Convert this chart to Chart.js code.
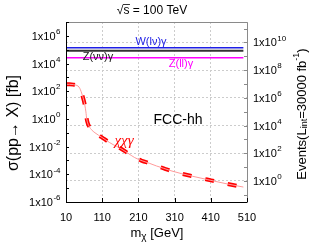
<!DOCTYPE html>
<html>
<head>
<meta charset="utf-8">
<script src="https://cdn.jsdelivr.net/npm/chart.js@4/dist/chart.umd.min.js"></script>
<style>
  html, body { margin: 0; padding: 0; background: #fff; }
</style>
</head>
<body>
<canvas id="xsChart" width="315" height="245"></canvas>
<script>
  // chi chi gamma cross section [fb] vs m_chi [GeV]
  const massPoints = [10, 20, 30, 40, 46, 50, 54, 58, 62, 65, 67, 70, 75, 80, 90, 100, 110, 120, 130, 140,
                      160, 180, 200, 220, 240, 260, 280, 300, 330, 360, 400, 430, 460, 500];
  const chiChiGamma = [316, 316, 300, 263, 200, 126, 63, 28, 10, 3.2, 1.1, 0.5, 0.26, 0.17, 0.1, 0.066, 0.045, 0.03, 0.02, 0.014,
                       0.0076, 0.0035, 0.0016, 0.00095, 0.00063, 0.0004, 0.00027, 0.00018, 0.00011, 0.000072, 0.000042, 0.000028, 0.000019, 0.000012];

  // backgrounds (flat)
  const bgMass = [10, 500];
  const wlnuGamma = [1.4e5, 1.4e5];
  const znunuGamma = [8.3e4, 8.3e4];
  const zllGamma = [2.6e4, 2.6e4];

  const xTicks = [10, 110, 210, 310, 410, 510];
  const sigmaExps = [-6, -4, -2, 0, 2, 4, 6];
  const eventExps = [0, 2, 4, 6, 8, 10];
  const lumi = 30000; // fb^-1
  const sigmaMin = 1e-6, sigmaMax = 1e7;

  const FONT = '"Liberation Sans", Arial, sans-serif';

  function pts(xs, ys) {
    return xs.map((x, i) => ({ x: x, y: ys[i] }));
  }

  // draws "1x10" with a raised exponent
  function drawPow(ctx, exp, x, y, align) {
    const base = '1x10';
    const sup = String(exp).replace('-', '-');
    ctx.font = '11px ' + FONT;
    const wb = ctx.measureText(base).width;
    ctx.font = '8px ' + FONT;
    const ws = ctx.measureText(sup).width;
    const start = align === 'right' ? x - wb - ws : x;
    ctx.textAlign = 'left';
    ctx.textBaseline = 'middle';
    ctx.font = '11px ' + FONT;
    ctx.fillText(base, start, y + 1);
    ctx.font = '8px ' + FONT;
    ctx.fillText(sup, start + wb + 0.5, y - 4);
  }

  const decor = {
    id: 'decor',
    afterDraw(chart) {
      const ctx = chart.ctx;
      const a = chart.chartArea;
      const xs = chart.scales.x, ys = chart.scales.y, y2 = chart.scales.y2;
      ctx.save();

      // frame
      ctx.lineWidth = 1;
      ctx.strokeStyle = '#8a8a8a';
      ctx.beginPath();
      ctx.moveTo(a.left, a.top + 0.5); ctx.lineTo(a.right + 0.5, a.top + 0.5);
      ctx.lineTo(a.right + 0.5, a.bottom);
      ctx.stroke();
      ctx.strokeStyle = '#000';
      ctx.beginPath();
      ctx.moveTo(a.left + 0.5, a.top); ctx.lineTo(a.left + 0.5, a.bottom + 0.5);
      ctx.lineTo(a.right + 0.5, a.bottom + 0.5);
      ctx.stroke();

      // tick marks
      ctx.beginPath();
      xTicks.forEach(v => {
        const px = Math.round(xs.getPixelForValue(v)) + 0.5;
        ctx.moveTo(px, a.bottom); ctx.lineTo(px, a.bottom - 4);
      });
      for (let e = -6; e <= 7; e++) {
        const py = Math.round(ys.getPixelForValue(Math.pow(10, e))) + 0.5;
        ctx.moveTo(a.left, py); ctx.lineTo(a.left + 3, py);
      }
      ctx.stroke();
      ctx.strokeStyle = '#8a8a8a';
      ctx.beginPath();
      for (let e = -1; e <= 11; e++) {
        const py = Math.round(y2.getPixelForValue(Math.pow(10, e))) + 0.5;
        ctx.moveTo(a.right, py); ctx.lineTo(a.right - 3, py);
      }
      ctx.stroke();

      // tick labels
      ctx.fillStyle = '#000';
      sigmaExps.forEach(e => drawPow(ctx, e, 60, ys.getPixelForValue(Math.pow(10, e)), 'right'));
      eventExps.forEach(e => drawPow(ctx, e, 253, y2.getPixelForValue(Math.pow(10, e)), 'left'));
      ctx.font = '11px ' + FONT;
      ctx.textAlign = 'center';
      ctx.textBaseline = 'middle';
      xTicks.forEach(v => ctx.fillText(String(v), xs.getPixelForValue(v), 218));

      // x title: m_chi [GeV]
      ctx.font = '13px ' + FONT;
      const mW = ctx.measureText('m').width;
      ctx.font = '10px ' + FONT;
      const chiW = ctx.measureText('χ').width;
      ctx.font = '13px ' + FONT;
      const restW = ctx.measureText(' [GeV]').width;
      let sx = 157 - (mW + chiW + restW) / 2;
      ctx.textAlign = 'left';
      ctx.fillText('m', sx, 233);
      ctx.font = '10px ' + FONT;
      ctx.fillText('χ', sx + mW, 237);
      ctx.font = '13px ' + FONT;
      ctx.fillText(' [GeV]', sx + mW + chiW, 233);

      // title
      ctx.font = '12px ' + FONT;
      ctx.textAlign = 'center';
      ctx.fillText('√s = 100 TeV', 152, 11);
      const tw = ctx.measureText('√s = 100 TeV').width;
      const rw = ctx.measureText('√').width;
      const sw = ctx.measureText('s').width;
      ctx.lineWidth = 0.8;
      ctx.strokeStyle = '#000';
      ctx.beginPath();
      ctx.moveTo(152 - tw / 2 + rw - 0.5, 4.5);
      ctx.lineTo(152 - tw / 2 + rw + sw + 0.5, 4.5);
      ctx.stroke();

      // left axis title
      ctx.save();
      ctx.translate(14, 123);
      ctx.rotate(-Math.PI / 2);
      ctx.font = '16px ' + FONT;
      ctx.textAlign = 'center';
      ctx.fillText('σ(pp→ X) [fb]', 0, 0);
      ctx.restore();

      // right axis title with sub/superscript
      ctx.save();
      ctx.translate(302, 114);
      ctx.rotate(-Math.PI / 2);
      const parts = [
        ['Events(L', '13px', 0],
        ['int', '9px', 3],
        ['=30000 fb', '13px', 0],
        ['-1', '9px', -5],
        [')', '13px', 0]
      ];
      let total = 0;
      parts.forEach(p => { ctx.font = p[1] + ' ' + FONT; total += ctx.measureText(p[0]).width; });
      let px = -total / 2;
      ctx.textAlign = 'left';
      parts.forEach(p => {
        ctx.font = p[1] + ' ' + FONT;
        ctx.fillText(p[0], px, p[2]);
        px += ctx.measureText(p[0]).width;
      });
      ctx.restore();

      // in-plot labels
      ctx.textAlign = 'center';
      ctx.font = '11px ' + FONT;
      ctx.fillStyle = '#1f1fe6';
      ctx.fillText('W(lν)γ', 151, 42);
      ctx.fillStyle = '#222';
      ctx.fillText('Z(νν)γ', 98, 57);
      ctx.fillStyle = '#ff00ff';
      ctx.fillText('Z(ll)γ', 181, 64);
      ctx.fillStyle = '#000';
      ctx.font = '14px ' + FONT;
      ctx.fillText('FCC-hh', 178, 120);
      ctx.fillStyle = '#ff0000';
      ctx.font = 'italic 15px "Liberation Serif", serif';
      ctx.fillText('χχγ', 124, 141);

      ctx.restore();
    }
  };

  const noFit = s => { if (s.isHorizontal()) s.height = 0; else s.width = 0; };

  new Chart(document.getElementById('xsChart'), {
    type: 'line',
    data: {
      datasets: [
        { data: pts(bgMass, wlnuGamma), borderColor: '#1f1fe6', borderWidth: 1.5, pointRadius: 0 },
        { data: pts(bgMass, znunuGamma), borderColor: '#333333', borderWidth: 2, pointRadius: 0 },
        { data: pts(bgMass, zllGamma), borderColor: '#ff00ff', borderWidth: 1.5, pointRadius: 0 },
        { data: pts(massPoints, chiChiGamma), borderColor: '#ff9a9a', borderWidth: 1, pointRadius: 0,
          cubicInterpolationMode: 'monotone' },
        { data: pts(massPoints, chiChiGamma), borderColor: '#ff0000', borderWidth: 4, pointRadius: 0,
          borderDash: [9, 14], borderCapStyle: 'butt', cubicInterpolationMode: 'monotone' }
      ]
    },
    options: {
      responsive: false,
      animation: false,
      layout: { padding: { left: 66, right: 68, top: 22, bottom: 43 } },
      plugins: { legend: { display: false }, tooltip: { enabled: false } },
      scales: {
        x: {
          type: 'linear', min: 10, max: 510,
          afterBuildTicks: s => { s.ticks = xTicks.map(v => ({ value: v })); },
          afterFit: noFit,
          ticks: { display: false },
          grid: { color: '#cccccc', drawTicks: false },
          border: { display: false, dash: [2, 2] }
        },
        y: {
          type: 'logarithmic', position: 'left', min: sigmaMin, max: sigmaMax,
          afterFit: noFit,
          ticks: { display: false },
          grid: { display: false },
          border: { display: false }
        },
        y2: {
          type: 'logarithmic', position: 'right', min: sigmaMin * lumi, max: sigmaMax * lumi,
          afterBuildTicks: s => { s.ticks = eventExps.map(e => ({ value: Math.pow(10, e) })); },
          afterFit: noFit,
          ticks: { display: false },
          grid: { color: '#cccccc', drawTicks: false },
          border: { display: false, dash: [2, 2] }
        }
      }
    },
    plugins: [decor]
  });
</script>
</body>
</html>
